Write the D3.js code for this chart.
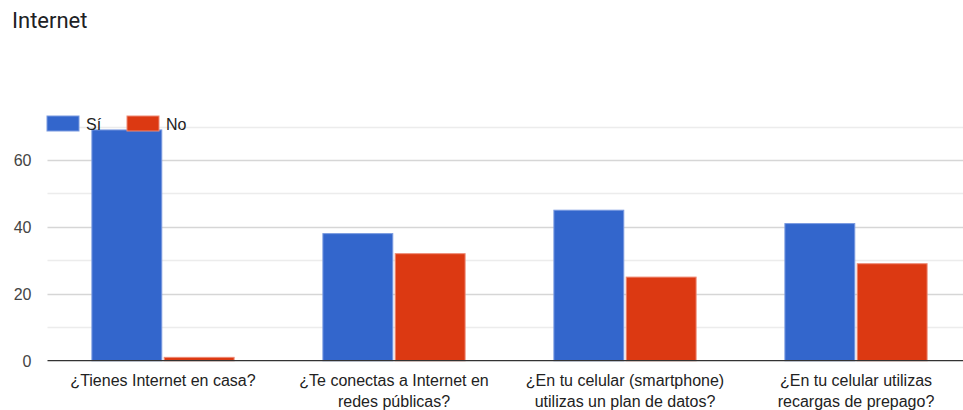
<!DOCTYPE html>
<html>
<head>
<meta charset="utf-8">
<script src="https://cdn.jsdelivr.net/npm/d3@7"></script>
<style>
  html, body { margin: 0; padding: 0; background: #fff; }
  svg { display: block; font-family: "Liberation Sans", Arial, sans-serif; }
</style>
</head>
<body>
<svg id="chart" width="963" height="410"></svg>
<script>
// Survey answers: how many respondents said "Sí" / "No" to each question
const categories = [
  ["¿Tienes Internet en casa?"],
  ["¿Te conectas a Internet en", "redes públicas?"],
  ["¿En tu celular (smartphone)", "utilizas un plan de datos?"],
  ["¿En tu celular utilizas", "recargas de prepago?"]
];
const seriesNames = ["Sí", "No"];
const siValues = [69, 38, 45, 41];
const noValues = [1, 32, 25, 29];
const yTicks = [0, 20, 40, 60];
const yGrid = [10, 20, 30, 40, 50, 60, 70];
const colors = ["#3366cc", "#dc3912"];
const strokes = ["#7a9ae0", "#ee8a74"];

const svg = d3.select("#chart");
const plot = { left: 47.5, right: 971.5, top: 126.6, bottom: 360.7 };

const x = d3.scaleBand()
  .domain(d3.range(categories.length))
  .range([plot.left, plot.right])
  .paddingInner(0.38)
  .paddingOuter(0.19);

const xInner = d3.scaleBand()
  .domain(d3.range(seriesNames.length))
  .range([0, x.bandwidth()])
  .paddingInner(0.02);

const y = d3.scaleLinear().domain([0, 70]).range([plot.bottom, plot.top]);

// Title
svg.append("text")
  .attr("x", 12).attr("y", 28)
  .attr("font-family", "Roboto, 'Liberation Sans', Arial, sans-serif")
  .attr("font-size", 22)
  .attr("fill", "#202124")
  .text("Internet");

// Gridlines
svg.append("g").selectAll("line")
  .data(yGrid)
  .join("line")
  .attr("x1", plot.left).attr("x2", 963)
  .attr("y1", d => Math.round(y(d)) + 0.5).attr("y2", d => Math.round(y(d)) + 0.5)
  .attr("stroke", d => d % 20 === 0 ? "#d6d6d6" : "#ececec")
  .attr("stroke-width", 1.3);

// Y axis labels
const yAxis = d3.axisLeft(y).tickValues(yTicks).tickSize(0).tickPadding(0);
const gy = svg.append("g")
  .attr("transform", `translate(${plot.left - 16},0)`)
  .call(yAxis);
gy.select(".domain").remove();
gy.selectAll("text")
  .attr("font-size", 16)
  .attr("fill", "#444")
  .attr("font-family", "'Liberation Sans', Arial, sans-serif")
  .attr("dy", "0.36em");

// Bars
const groups = svg.append("g").selectAll("g")
  .data(categories.map((c, i) => ({ i, vals: [siValues[i], noValues[i]] })))
  .join("g")
  .attr("transform", d => `translate(${x(d.i)},0)`);

groups.selectAll("rect")
  .data(d => d.vals.map((v, s) => ({ v, s })))
  .join("rect")
  .attr("x", d => xInner(d.s) + 0.5)
  .attr("width", xInner.bandwidth() - 1)
  .attr("y", d => y(d.v))
  .attr("height", d => y(0) - y(d.v))
  .attr("fill", d => colors[d.s])
  .attr("stroke", d => strokes[d.s])
  .attr("stroke-width", 1);

// Baseline
svg.append("line")
  .attr("x1", plot.left).attr("x2", 963)
  .attr("y1", y(0)).attr("y2", y(0))
  .attr("stroke", "#333").attr("stroke-width", 1.3);

// Category labels
const gx = svg.append("g")
  .attr("transform", `translate(0,${plot.bottom})`)
  .call(d3.axisBottom(x).tickSize(0).tickFormat(() => ""));
gx.select(".domain").remove();
gx.selectAll(".tick text").each(function(d) {
  const t = d3.select(this)
    .attr("font-size", 16)
    .attr("fill", "#222")
    .attr("font-family", "'Liberation Sans', Arial, sans-serif")
    .attr("y", 0).attr("dy", null);
  categories[d].forEach((line, k) => {
    t.append("tspan").attr("x", 0).attr("y", 25 + k * 21).text(line);
  });
});

// Legend
const legend = svg.append("g");
const legendX = [47, 127];
seriesNames.forEach((name, s) => {
  legend.append("rect")
    .attr("x", legendX[s]).attr("y", 116)
    .attr("width", 32).attr("height", 15)
    .attr("fill", colors[s])
    .attr("stroke", strokes[s]).attr("stroke-width", 1);
  legend.append("text")
    .attr("x", legendX[s] + 39).attr("y", 130)
    .attr("font-size", 16).attr("fill", "#222")
    .text(name);
});
</script>
</body>
</html>
